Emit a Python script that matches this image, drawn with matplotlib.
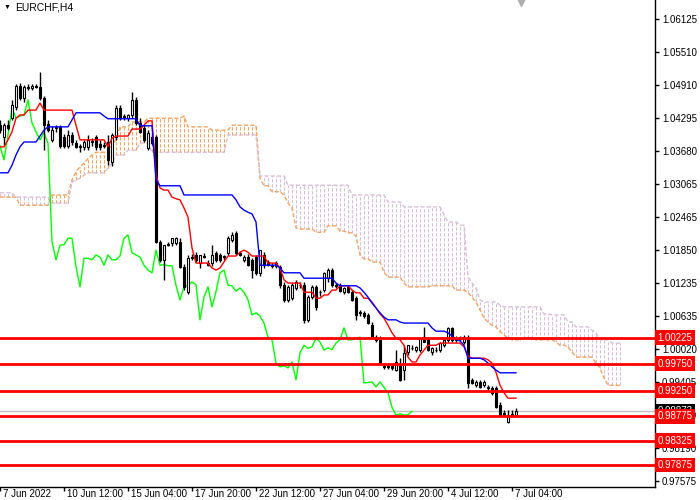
import numpy as np
import matplotlib.pyplot as plt
from matplotlib.transforms import blended_transform_factory, ScaledTranslation

plt.rcParams['font.family'] = ['Liberation Sans', 'DejaVu Sans']

# EURCHF H4 candles (bar 0 = 7 Jun 2022)
opens = [1.0416, 1.0394, 1.0416, 1.0429, 1.0450, 1.0489, 1.0466, 1.0487, 1.0485, 1.0489,
         1.0487, 1.0466, 1.0418, 1.0389, 1.0411, 1.0413, 1.0394, 1.0378, 1.0398, 1.0383,
         1.0376, 1.0376, 1.0376, 1.0385, 1.0394, 1.0381, 1.0379, 1.0385, 1.0348, 1.0394,
         1.0448, 1.0431, 1.0429, 1.0435, 1.0463, 1.0420, 1.0411, 1.0374, 1.0394, 1.0394,
         1.0200, 1.0167, 1.0196, 1.0198, 1.0198, 1.0200, 1.0154, 1.0107, 1.0172, 1.0176,
         1.0161, 1.0174, 1.0161, 1.0161, 1.0180, 1.0176, 1.0172, 1.0180, 1.0204, 1.0217,
         1.0180, 1.0167, 1.0172, 1.0167, 1.0172, 1.0143, 1.0176, 1.0163, 1.0157, 1.0161,
         1.0154, 1.0120, 1.0093, 1.0096, 1.0115, 1.0120, 1.0120, 1.0056, 1.0098, 1.0117,
         1.0107, 1.0111, 1.0133, 1.0148, 1.0120, 1.0120, 1.0107, 1.0117, 1.0107, 1.0096,
         1.0070, 1.0069, 1.0065, 1.0046, 1.0024, 1.0019, 0.9971, 0.9969, 0.9971, 0.9963,
         0.9972, 0.9963, 0.9996, 1.0004, 1.0000, 1.0000, 1.0024, 1.0019, 0.9996, 1.0000,
         1.0000, 1.0009, 1.0019, 1.0041, 1.0022, 1.0022, 1.0015, 1.0024, 0.9945, 0.9935,
         0.9941, 0.9935, 0.9930, 0.9930, 0.9930, 0.9898, 0.9884, 0.9867, 0.9882, 0.9880]
highs = [1.0426, 1.0420, 1.0426, 1.0463, 1.0492, 1.0494, 1.0490, 1.0492, 1.0492, 1.0492,
         1.0515, 1.0470, 1.0426, 1.0415, 1.0416, 1.0416, 1.0400, 1.0407, 1.0404, 1.0389,
         1.0381, 1.0389, 1.0398, 1.0392, 1.0398, 1.0389, 1.0385, 1.0398, 1.0402, 1.0453,
         1.0453, 1.0437, 1.0437, 1.0478, 1.0468, 1.0429, 1.0416, 1.0407, 1.0400, 1.0398,
         1.0204, 1.0194, 1.0200, 1.0207, 1.0209, 1.0207, 1.0159, 1.0176, 1.0178, 1.0181,
         1.0176, 1.0180, 1.0167, 1.0194, 1.0183, 1.0180, 1.0176, 1.0211, 1.0218, 1.0220,
         1.0183, 1.0176, 1.0178, 1.0170, 1.0176, 1.0185, 1.0181, 1.0167, 1.0161, 1.0165,
         1.0157, 1.0126, 1.0120, 1.0124, 1.0130, 1.0126, 1.0126, 1.0102, 1.0120, 1.0120,
         1.0111, 1.0144, 1.0152, 1.0152, 1.0124, 1.0124, 1.0117, 1.0120, 1.0111, 1.0100,
         1.0074, 1.0072, 1.0069, 1.0052, 1.0028, 1.0026, 0.9976, 0.9974, 0.9976, 1.0000,
         0.9985, 1.0009, 1.0009, 1.0009, 1.0007, 1.0022, 1.0043, 1.0022, 1.0006, 1.0006,
         1.0015, 1.0020, 1.0043, 1.0043, 1.0026, 1.0026, 1.0028, 1.0028, 0.9948, 0.9945,
         0.9945, 0.9945, 0.9935, 0.9934, 0.9934, 0.9904, 0.9889, 0.9889, 0.9889, 0.9893]
lows = [1.0402, 1.0379, 1.0407, 1.0426, 1.0444, 1.0463, 1.0459, 1.0481, 1.0481, 1.0485,
        1.0463, 1.0370, 1.0404, 1.0385, 1.0404, 1.0374, 1.0374, 1.0374, 1.0379, 1.0374,
        1.0366, 1.0370, 1.0370, 1.0378, 1.0370, 1.0370, 1.0374, 1.0342, 1.0341, 1.0389,
        1.0426, 1.0426, 1.0424, 1.0429, 1.0416, 1.0402, 1.0385, 1.0370, 1.0379, 1.0198,
        1.0163, 1.0130, 1.0193, 1.0193, 1.0194, 1.0152, 1.0111, 1.0104, 1.0167, 1.0163,
        1.0152, 1.0170, 1.0156, 1.0156, 1.0163, 1.0163, 1.0167, 1.0176, 1.0200, 1.0176,
        1.0174, 1.0163, 1.0156, 1.0133, 1.0139, 1.0137, 1.0152, 1.0156, 1.0152, 1.0152,
        1.0115, 1.0089, 1.0089, 1.0093, 1.0111, 1.0115, 1.0050, 1.0052, 1.0094, 1.0074,
        1.0100, 1.0107, 1.0126, 1.0117, 1.0115, 1.0107, 1.0104, 1.0106, 1.0091, 1.0056,
        1.0063, 1.0059, 1.0048, 1.0022, 1.0015, 0.9974, 0.9965, 0.9965, 0.9963, 0.9961,
        0.9943, 0.9945, 0.9991, 1.0000, 0.9996, 0.9996, 1.0015, 0.9998, 0.9991, 0.9996,
        0.9996, 1.0006, 1.0015, 1.0015, 1.0015, 1.0017, 1.0011, 0.9930, 0.9937, 0.9932,
        0.9930, 0.9932, 0.9926, 0.9917, 0.9892, 0.9878, 0.9878, 0.9865, 0.9878, 0.9876]
closes = [1.0407, 1.0416, 1.0411, 1.0453, 1.0489, 1.0466, 1.0487, 1.0485, 1.0489, 1.0487,
          1.0466, 1.0416, 1.0407, 1.0407, 1.0413, 1.0378, 1.0378, 1.0398, 1.0385, 1.0376,
          1.0377, 1.0385, 1.0389, 1.0386, 1.0376, 1.0376, 1.0378, 1.0352, 1.0398, 1.0448,
          1.0429, 1.0433, 1.0435, 1.0463, 1.0420, 1.0404, 1.0389, 1.0402, 1.0383, 1.0200,
          1.0167, 1.0194, 1.0195, 1.0207, 1.0207, 1.0154, 1.0117, 1.0170, 1.0170, 1.0167,
          1.0176, 1.0172, 1.0157, 1.0176, 1.0167, 1.0167, 1.0174, 1.0207, 1.0213, 1.0180,
          1.0176, 1.0172, 1.0157, 1.0148, 1.0143, 1.0185, 1.0157, 1.0158, 1.0156, 1.0156,
          1.0120, 1.0093, 1.0117, 1.0120, 1.0126, 1.0121, 1.0056, 1.0098, 1.0117, 1.0080,
          1.0108, 1.0143, 1.0148, 1.0120, 1.0119, 1.0109, 1.0115, 1.0107, 1.0093, 1.0065,
          1.0069, 1.0063, 1.0050, 1.0024, 1.0019, 0.9976, 0.9969, 0.9971, 0.9967, 0.9978,
          0.9945, 0.9995, 1.0009, 1.0003, 1.0006, 1.0022, 1.0015, 1.0000, 1.0004, 1.0001,
          1.0013, 1.0019, 1.0041, 1.0019, 1.0019, 1.0021, 1.0024, 0.9939, 0.9940, 0.9941,
          0.9932, 0.9941, 0.9931, 0.9921, 0.9894, 0.9880, 0.9882, 0.9880, 0.9880, 0.9887]

# Ichimoku lines as shown (tenkan red, kijun blue)
tenkan = ([1.0376]*2 + [1.0389, 1.0404, 1.0429] + [1.0435]*2 + [1.0444]*3 + [1.0457]
          + [1.0444]*8 + [1.0416] + [1.0389]*7 + [1.0376, 1.0392] + [1.0396]*4
          + [1.0409]*3 + [1.0416] + [1.0424]*2 + [1.0324, 1.0300] + [1.0296]*2
          + [1.0283, 1.0280, 1.0278, 1.0263, 1.0246, 1.0189] + [1.0161]*4
          + [1.0152, 1.0148, 1.0152, 1.0163] + [1.0174]*3 + [1.0181, 1.0185, 1.0181]
          + [1.0174]*4 + [1.0161]*3 + [1.0152, 1.0130] + [1.0124]*4 + [1.0107]*3
          + [1.0096]*2 + [1.0102]*2 + [1.0111]*2 + [1.0119]*3 + [1.0111] + [1.0106]*2
          + [1.0096]*2 + [1.0089, 1.0078, 1.0067, 1.0059, 1.0046, 1.0032, 1.0022, 1.0019,
                          1.0009, 0.9987]
          + [0.9978]*2 + [0.9991, 1.0000] + [1.0009]*3 + [1.0013]*6 + [1.0006, 0.9989]
          + [0.9985]*4 + [0.9982, 0.9976, 0.9959, 0.9935, 0.9921] + [0.9911]*3)
kijun = ([1.0328]*3 + [1.0342, 1.0361, 1.0376] + [1.0385]*4 + [1.0396, 1.0407]
         + [1.0413]*6 + [1.0426] + [1.0439]*7 + [1.0433] + [1.0428]*8 + [1.0415]*4
         + [1.0315] + [1.0304]*6 + [1.0287]*13
         + [1.0278, 1.0265, 1.0259, 1.0255, 1.0252, 1.0237] + [1.0157]*5 + [1.0152]
         + [1.0143]*5 + [1.0133]*8 + [1.0124] + [1.0119]*5
         + [1.0115, 1.0107, 1.0098, 1.0087, 1.0078, 1.0069, 1.0061] + [1.0056]*3
         + [1.0052] + [1.0050]*7 + [1.0041] + [1.0035]*3
         + [1.0032, 1.0026, 1.0020, 1.0017, 1.0009] + [0.9985]*4
         + [0.9982, 0.9976, 0.9969, 0.9963] + [0.9958]*5)

# cloud edges, already shifted 26 bars forward
span_a = ([1.0283]*5 + [1.0268]*8 + [1.0287]*5
          + [1.0315, 1.0330, 1.0339, 1.0346, 1.0354, 1.0361] + [1.0366]*4
          + [1.0379, 1.0389] + [1.0413]*3 + [1.0422]*4 + [1.0429]*9 + [1.0433]
          + [1.0413]*6 + [1.0407]*5 + [1.0416]*7 + [1.0318] + [1.0304]*2 + [1.0293]*3
          + [1.0287, 1.0272, 1.0263, 1.0226] + [1.0224]*4 + [1.0218]*3 + [1.0230]*3
          + [1.0220]*2 + [1.0217]*2 + [1.0211, 1.0176] + [1.0169]*2 + [1.0163]*3
          + [1.0144] + [1.0135]*4 + [1.0124] + [1.0117]*6 + [1.0119]*6 + [1.0111]*3
          + [1.0106, 1.0098, 1.0089, 1.0074, 1.0059, 1.0052, 1.0046, 1.0043, 1.0034,
             1.0028, 1.0022]
          + [1.0019]*3 + [1.0022]*3 + [1.0019]*5 + [1.0015] + [1.0009]*2
          + [1.0006, 0.9996] + [0.9987]*5 + [0.9976, 0.9967, 0.9948] + [0.9935]*4)
span_b = ([1.0291]*4 + [1.0283]*9 + [1.0272]*5 + [1.0311, 1.0315, 1.0318, 1.0324]
          + [1.0328]*5 + [1.0337, 1.0346] + [1.0361]*3 + [1.0370]*3 + [1.0383]*3
          + [1.0366]*19 + [1.0398]*8 + [1.0322]*7 + [1.0305]*16 + [1.0287]*9
          + [1.0274]*4 + [1.0265]*10 + [1.0250] + [1.0237]*3 + [1.0231]*2
          + [1.0135, 1.0124, 1.0115, 1.0093] + [1.0089]*4 + [1.0083] + [1.0080]*10
          + [1.0067]*2 + [1.0065]*4 + [1.0052]*2 + [1.0043]*4 + [1.0037, 1.0032]
          + [1.0019]*3 + [1.0013]*3)

levels = [1.00225, 0.99750, 0.99250, 0.98775, 0.98325, 0.97875]
bid = 0.98873
ytick_vals = [1.06125, 1.05510, 1.04910, 1.04295, 1.03680, 1.03065, 1.02465, 1.01850,
              1.01235, 1.00635, 1.00020, 0.99405, 0.98790, 0.98190, 0.97575]
xtick_bars = [0, 16, 32, 48, 64, 80, 96, 112, 128]
xtick_labels = ['7 Jun 2022', '10 Jun 12:00', '15 Jun 04:00', '17 Jun 20:00', '22 Jun 12:00',
                '27 Jun 04:00', '29 Jun 20:00', '4 Jul 12:00', '7 Jul 04:00']

o = np.array(opens)
h = np.array(highs)
l = np.array(lows)
c = np.array(closes)
x = np.arange(len(c))
a = np.array(span_a)
b = np.array(span_b)
xc = np.arange(len(a))

fig = plt.figure(figsize=(7, 5), dpi=100)
ax = fig.add_axes([0, 13 / 500, 655 / 700, 487 / 500])

dash = (0, (3, 1.5))
# kumo
up = a >= b
lo_ab = np.minimum(a, b)
hi_ab = np.maximum(a, b)
ax.vlines(xc[up], lo_ab[up], hi_ab[up], colors='#F4A460', linestyles=dash, lw=0.8, zorder=1)
ax.vlines(xc[~up], lo_ab[~up], hi_ab[~up], colors='#D8BFD8', linestyles=dash, lw=0.8, zorder=1)
ax.plot(xc, a, color='#F4A460', ls=dash, lw=1, zorder=1.2)
ax.plot(xc, b, color='#D8BFD8', ls=dash, lw=1, zorder=1.2)

ax.axhline(bid, color='#C0C0C0', lw=1, zorder=0.9)

# chikou = closes shifted back 26 bars
ax.plot(x[:len(c) - 26], c[26:], color='#00FF00', lw=1, zorder=2)

# candles
ax.vlines(x, l, h, color='black', lw=1, zorder=3)
bull = c >= o
bot = np.minimum(o, c)
hgt = np.maximum(np.abs(c - o), 0.00006)
ax.bar(x[bull], hgt[bull], bottom=bot[bull], width=0.6, facecolor='white',
       edgecolor='black', lw=0.8, zorder=3.1)
ax.bar(x[~bull], hgt[~bull], bottom=bot[~bull], width=0.6, facecolor='black',
       edgecolor='black', lw=0.8, zorder=3.1)

ax.plot(x, tenkan, color='red', lw=1, zorder=4)
ax.plot(x, kijun, color='blue', lw=1, zorder=4)

for lv in levels:
    ax.axhline(lv, color='red', lw=2, zorder=5)

ax.set_xlim(0, 655 / 4)
ax.set_ylim(0.97467, 1.06477)

for s in ['left', 'top']:
    ax.spines[s].set_visible(False)
ax.spines['right'].set_linewidth(1)
ax.spines['bottom'].set_linewidth(1)

ax.yaxis.tick_right()
ax.set_yticks(ytick_vals)
ax.set_yticklabels(['%.5f' % v for v in ytick_vals])
ax.tick_params(axis='y', length=3, width=1, labelsize=7, pad=2)
ax.set_xticks(xtick_bars)
ax.set_xticklabels(xtick_labels)
ax.tick_params(axis='x', length=3, width=1, labelsize=7, pad=0)
for lab in ax.get_xticklabels():
    lab.set_ha('left')
    lab.set_transform(lab.get_transform() + ScaledTranslation(2 / 72, 1.5 / 72, fig.dpi_scale_trans))

trans = blended_transform_factory(ax.transAxes, ax.transData)
ax.text(1.004, bid, '%.5f' % bid, transform=trans, color='white', fontsize=7,
        va='center', ha='left', zorder=6,
        bbox=dict(boxstyle='square,pad=0.25', fc='black', ec='none'))
for lv in levels:
    ax.text(1.004, lv, '%.5f' % lv, transform=trans, color='white', fontsize=7,
            va='center', ha='left', zorder=7,
            bbox=dict(boxstyle='square,pad=0.25', fc='red', ec='none'))

fig.text(4 / 700, 1 - 7 / 500, '\u25bc', fontsize=5, va='center')
fig.text(15 / 700, 1 - 7 / 500, 'EURCHF,H4', fontsize=7.5, va='center')
ax.plot([130.3], [1.0644], marker='v', ms=5.5, color='#B0B0B0', clip_on=False, zorder=8)

fig.savefig('out.png', dpi=100)
